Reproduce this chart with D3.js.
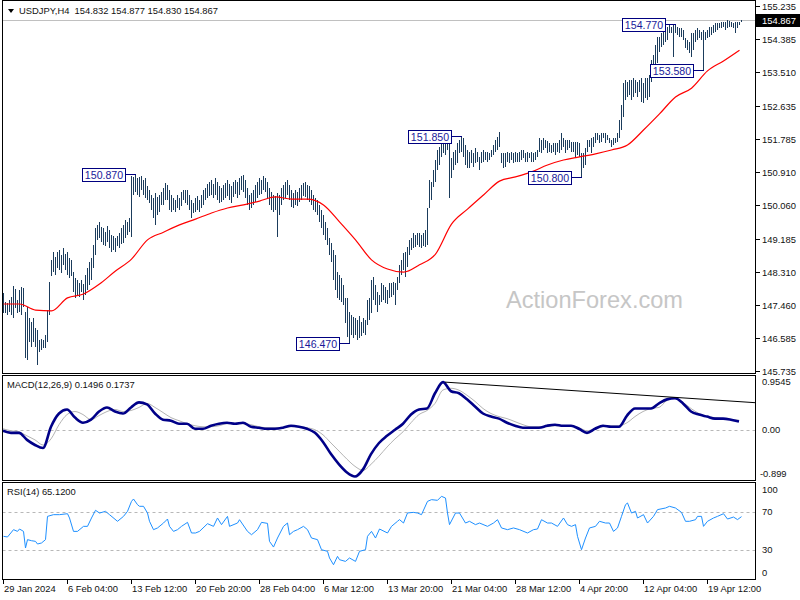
<!DOCTYPE html>
<html><head><meta charset="utf-8">
<script src="https://cdn.jsdelivr.net/npm/d3@7"></script>
<style>
html,body{margin:0;padding:0;background:#fff;}
svg{display:block;}
text{font-family:"Liberation Sans",Arial,sans-serif;white-space:pre;}
</style></head><body>
<svg id="chart" width="800" height="600"></svg>
<script>
// ---------------- DATA ----------------
const symbolTitle = "USDJPY,H4  154.832 154.877 154.830 154.867";
const lastClose = 154.867;
const priceTicks = [155.235,154.385,153.510,152.635,151.785,150.910,150.060,149.185,148.310,147.460,146.585,145.735];
const timeLabels = ["29 Jan 2024","6 Feb 04:00","13 Feb 12:00","20 Feb 20:00","28 Feb 04:00","6 Mar 12:00","13 Mar 20:00","21 Mar 04:00","28 Mar 12:00","4 Apr 20:00","12 Apr 04:00","19 Apr 12:00"];
const timeLabelBars = [0,32,64,96,128,160,192,224,256,288,320,352];

// H4 bar highs / lows (bar 0 = 29 Jan 2024)
const highs = [
147.77,147.54,147.51,147.59,147.67,147.95,147.87,147.59,147.85,147.93,147.90,
147.28,147.41,147.12,147.02,147.12,146.86,146.81,146.55,146.57,146.55,146.68,147.33,148.06,
148.63,148.84,148.71,148.84,148.89,148.76,148.94,148.79,148.84,148.68,148.63,
148.32,148.16,148.11,148.03,148.11,148.00,148.24,148.42,148.58,148.68,
149.02,149.46,149.54,149.62,149.49,149.46,149.36,149.51,149.41,149.28,149.25,149.20,149.25,149.33,149.46,149.54,149.67,149.62,149.72,
150.82,150.79,150.87,150.76,150.79,150.82,150.71,150.76,150.56,
150.45,150.32,150.24,150.37,150.27,150.32,150.40,150.50,150.63,150.58,150.45,150.32,150.24,150.19,150.32,150.24,150.40,150.45,150.45,150.45,150.32,150.19,150.11,150.24,
150.30,150.19,150.32,150.45,150.50,150.61,150.66,150.71,150.61,150.76,150.66,150.56,150.50,150.58,150.63,150.71,150.61,150.56,150.66,150.71,150.66,150.76,150.82,150.84,
150.71,150.50,150.32,150.37,150.45,150.58,150.66,150.76,150.71,150.82,150.76,150.66,150.50,150.40,150.32,150.30,150.37,150.32,150.50,150.58,150.66,150.71,150.58,150.45,150.37,
150.45,150.40,150.50,150.58,150.63,150.66,150.58,150.56,150.45,150.32,150.24,150.19,150.06,149.93,149.80,149.62,149.46,149.20,149.07,148.89,148.76,148.32,148.24,148.16,147.98,
147.64,147.64,147.28,147.20,147.15,147.12,147.07,147.17,147.02,147.12,147.07,147.59,147.64,148.11,148.19,147.98,147.80,147.72,148.03,147.98,147.93,147.85,148.03,148.03,148.06,148.03,
148.19,148.50,148.63,148.81,148.84,148.97,149.15,149.20,149.33,149.28,149.33,149.33,149.28,149.33,149.41,149.98,150.71,150.66,150.97,151.23,151.49,151.57,151.80,151.75,151.83,151.80,
151.68,151.29,151.44,151.49,151.68,151.75,151.85,151.80,151.62,151.49,151.44,151.49,151.42,151.55,151.44,151.31,151.44,151.49,151.44,151.44,151.42,151.49,151.62,151.75,151.83,151.96,
151.42,151.42,151.42,151.44,151.42,151.44,151.42,151.44,151.42,151.44,151.49,151.49,151.42,151.44,151.42,151.44,151.42,151.44,151.49,151.80,151.75,151.80,151.75,151.73,151.68,151.62,151.68,
151.68,151.68,151.75,151.94,151.80,151.75,151.75,151.75,151.70,151.70,151.70,151.70,151.68,151.42,151.42,151.55,151.75,151.75,151.80,151.83,151.94,151.94,151.88,151.94,151.94,151.94,151.88,151.80,151.75,151.80,151.80,151.94,
152.28,152.67,153.24,153.32,153.26,153.32,153.32,153.37,153.32,153.26,153.32,153.37,153.24,153.37,153.37,153.45,153.84,153.97,154.23,154.43,154.43,154.54,154.62,154.69,154.69,154.75,154.69,154.75,
154.77,154.69,154.67,154.67,154.62,154.41,154.36,154.30,154.54,154.54,154.62,154.67,154.62,154.56,154.62,154.56,154.62,154.69,154.69,154.75,154.80,154.80,154.80,154.82,154.82,154.82,154.88,154.85,154.82,154.80,154.82,154.82,154.82,154.877
];
const lows = [
147.25,147.25,147.20,147.28,147.20,147.12,147.38,147.25,147.28,147.20,147.41,
146.08,146.03,146.49,146.36,146.49,146.36,145.90,146.23,146.29,146.34,146.34,146.49,147.20,
148.21,148.32,148.24,148.42,148.37,148.29,148.50,148.37,148.24,148.16,148.21,
147.80,147.64,147.72,147.67,147.80,147.59,147.72,147.85,147.98,148.11,
148.42,148.76,149.15,149.20,149.10,149.02,148.99,149.10,148.94,148.84,148.89,148.84,148.99,148.94,149.05,149.07,149.20,149.28,149.36,
149.23,150.32,150.40,150.32,150.27,150.45,150.32,150.24,150.19,
150.11,149.93,149.72,149.54,149.80,149.88,150.06,150.06,150.19,150.19,149.93,149.88,149.93,149.88,149.98,149.93,150.04,150.19,150.11,150.06,149.93,149.72,149.85,149.88,
149.93,149.88,149.98,150.06,150.19,150.24,150.30,150.32,150.24,150.32,150.19,150.11,150.14,150.19,150.24,150.30,150.19,150.11,150.27,150.35,150.24,150.32,150.45,150.40,
150.24,150.06,149.93,149.98,150.06,150.14,150.24,150.32,150.35,150.45,150.40,150.24,150.06,149.93,149.88,149.93,149.23,149.80,150.06,150.19,150.24,150.32,150.19,150.01,149.98,
150.06,150.04,150.14,150.19,150.30,150.27,150.19,150.14,150.06,149.93,149.88,149.80,149.62,149.46,149.28,149.15,149.02,148.76,148.58,148.11,147.85,147.64,147.59,147.54,147.46,
146.99,146.62,146.47,146.68,146.60,146.68,146.55,146.60,146.65,146.73,146.68,146.94,147.07,147.25,147.59,147.46,147.28,147.46,147.54,147.59,147.51,147.48,147.64,147.67,147.72,147.46,
147.85,148.03,148.24,148.37,148.19,148.45,148.76,148.89,148.94,148.97,149.02,148.97,148.94,148.99,148.97,149.02,149.98,150.19,150.53,150.66,150.97,151.10,151.31,151.42,151.36,151.49,
150.24,150.76,150.97,151.10,151.16,151.42,151.44,151.31,151.10,151.03,151.03,151.16,151.05,151.16,151.18,150.97,151.16,151.18,151.23,151.18,151.23,151.31,151.36,151.44,151.49,151.57,
151.16,151.03,151.05,151.18,151.16,151.23,151.16,151.18,151.18,151.18,151.23,151.29,151.18,151.18,151.29,151.18,151.18,151.23,151.31,151.44,151.42,151.49,151.55,151.42,151.44,151.42,151.44,
151.36,151.44,151.42,151.49,151.57,151.42,151.49,151.55,151.44,151.44,151.31,151.36,151.31,150.80,151.03,151.10,151.44,151.57,151.42,151.57,151.68,151.75,151.68,151.70,151.80,151.68,151.75,151.68,151.57,151.62,151.68,151.70,
151.80,152.01,152.35,152.80,152.87,152.93,152.80,152.87,152.98,152.87,153.00,152.74,152.72,152.85,152.80,152.87,153.26,153.37,153.52,153.76,154.04,154.17,154.23,154.30,154.36,154.54,154.54,153.91,
154.54,154.49,154.43,154.43,154.36,154.15,154.10,154.02,153.91,154.10,154.30,154.36,154.41,154.36,153.58,154.36,154.41,154.43,154.49,154.54,154.56,154.62,154.67,154.67,154.69,154.62,154.67,154.69,154.69,154.67,154.54,154.67,154.75,154.83
];

// moving average (sampled every 8 bars)
const maStep = 8;
const maValues = [147.48,147.48,147.32,147.30,147.64,147.74,148.00,148.34,148.65,149.15,149.35,149.54,149.69,149.85,149.98,150.06,150.16,150.27,150.21,150.21,150.06,149.62,149.15,148.63,148.39,148.31,148.50,148.78,149.56,149.95,150.32,150.68,150.79,150.92,151.10,151.23,151.31,151.39,151.49,151.62,152.01,152.43,152.87,153.10,153.55,153.81,154.09];

// MACD(12,26,9) sampled every 4 bars
const macdStep = 4;
const macdMain = [-0.018,-0.055,-0.055,-0.183,-0.275,-0.330,0.055,0.294,0.367,0.220,
0.128,0.183,0.330,0.404,0.330,0.294,0.404,0.495,0.459,0.294,
0.183,0.165,0.110,0.110,0.018,0.018,0.073,0.110,0.128,0.110,
0.128,0.055,0.037,0.018,0.018,0.037,0.073,0.055,0.018,-0.055,
-0.220,-0.440,-0.624,-0.771,-0.844,-0.716,-0.440,-0.239,-0.110,0.000,
0.110,0.275,0.367,0.385,0.661,0.862,0.697,0.661,0.550,0.422,
0.294,0.239,0.202,0.128,0.073,0.037,0.037,0.037,0.073,0.092,
0.073,0.073,0.018,-0.055,0.018,0.073,0.055,0.055,0.257,0.385,
0.385,0.385,0.477,0.550,0.569,0.477,0.330,0.275,0.239,0.202,
0.202,0.183,0.150];
const macdSignal = [0.018,-0.018,-0.037,-0.110,-0.183,-0.275,-0.165,0.092,0.275,0.330,
0.275,0.183,0.257,0.330,0.367,0.330,0.349,0.404,0.477,0.404,
0.312,0.220,0.165,0.110,0.073,0.055,0.055,0.073,0.110,0.110,
0.110,0.092,0.055,0.037,0.037,0.037,0.055,0.055,0.037,0.000,
-0.092,-0.239,-0.385,-0.532,-0.661,-0.734,-0.624,-0.477,-0.312,-0.165,
-0.037,0.128,0.275,0.349,0.477,0.720,0.750,0.716,0.624,0.514,
0.385,0.294,0.239,0.202,0.147,0.092,0.055,0.055,0.055,0.073,
0.073,0.073,0.037,-0.018,0.018,0.055,0.073,0.073,0.128,0.239,
0.330,0.385,0.404,0.532,0.569,0.495,0.385,0.294,0.239,0.220,
0.202,0.183,0.174];
const macdTrend = [[221,0.862],[376,0.49]];

// RSI(14): [bar, value]
const rsiSeries = [[0,44.4],[2,43.7],[5,51.4],[7,49.6],[8,52.1],[10,49.6],[11,32.1],[12,40.9],[14,39.8],[16,39.1],[17,36.3],[19,37.4],[21,40.9],[22,65.4],[25,67.2],[28,67.2],[32,68.2],[33,63.7],[35,49.6],[37,49.6],[40,54.9],[42,54.9],[44,63.7],[46,71.8],[48,68.9],[51,70.7],[53,67.2],[57,60.2],[60,65.4],[62,70.7],[64,81.2],[65,83.7],[67,77.7],[68,76.0],[70,76.0],[72,68.9],[73,60.2],[75,51.4],[77,53.2],[80,58.4],[82,62.6],[83,54.9],[85,49.6],[87,51.4],[89,54.9],[92,59.1],[94,47.9],[96,47.9],[98,49.6],[102,57.7],[105,54.9],[107,63.7],[109,56.7],[112,65.4],[113,54.9],[117,58.4],[118,61.9],[122,49.6],[124,46.1],[127,51.4],[129,59.1],[132,58.0],[133,39.1],[135,33.1],[137,42.6],[140,54.9],[142,58.4],[143,46.1],[145,49.6],[147,51.4],[150,54.9],[152,51.4],[154,42.6],[157,40.9],[159,30.3],[162,28.6],[163,21.6],[165,14.5],[167,23.3],[168,19.8],[171,18.0],[173,21.6],[176,18.0],[178,28.6],[181,30.3],[182,44.4],[184,49.6],[186,42.6],[188,52.1],[192,47.9],[194,54.9],[197,60.2],[198,62.0],[200,58.4],[202,69.0],[205,69.6],[207,68.9],[209,67.2],[212,81.2],[214,83.0],[217,82.3],[219,86.5],[221,84.7],[222,68.9],[223,56.7],[226,68.9],[228,68.9],[231,58.4],[233,60.2],[236,56.7],[238,58.4],[242,54.9],[245,58.4],[247,61.9],[249,53.2],[252,51.4],[255,53.2],[258,51.4],[262,47.9],[265,51.4],[267,52.1],[269,61.9],[272,58.4],[274,58.4],[277,54.9],[280,63.7],[282,56.7],[284,54.9],[286,56.7],[287,44.4],[289,30.3],[291,42.6],[293,53.2],[296,54.9],[298,60.2],[301,58.4],[303,58.4],[305,49.6],[307,53.2],[309,65.4],[311,77.7],[312,79.5],[314,68.9],[316,70.7],[317,63.7],[320,67.2],[322,58.4],[325,65.4],[327,72.5],[331,74.2],[333,76.0],[336,74.2],[339,69.6],[341,60.2],[343,60.2],[346,61.9],[347,65.4],[349,65.4],[350,54.9],[352,60.2],[355,63.7],[357,65.4],[360,68.2],[362,62.6],[365,64.7],[367,62.0],[369,65.12]];

// price labels on swing points
const swingPrices = [150.870,146.470,151.850,150.800,154.770,153.580];
const swingBars   = [66,173,229,289,336,350];

// ---------------- DRAW ----------------
const svg = d3.select("#chart");
const L = 2.5, R = 755.5;
const panels = {main:[0.5,373.5], macd:[375.5,480.5], rsi:[482.5,579.5]};

const x = d3.scaleLinear().domain([0,376]).range([3,755]);
const yP = d3.scaleLinear().domain([145.735,155.235]).range([371,6.2]);
const yM = d3.scaleLinear().domain([-0.899,0.9545]).range([479.5,377]);
const yR = d3.scaleLinear().domain([0,100]).range([578.5,483.5]);
const fs = 9.4;
const txt = "#111";

// watermark
svg.append("text").attr("x",506).attr("y",308).attr("font-size",23.6).attr("fill","#c6c6c6").text("ActionForex.com");

// current price line
svg.append("line").attr("x1",L).attr("x2",R).attr("y1",Math.round(yP(lastClose))+0.5).attr("y2",Math.round(yP(lastClose))+0.5)
  .attr("stroke","#c0c0c0").attr("stroke-width",1);

// bars
const barIdx = d3.range(highs.length);
svg.append("g").attr("shape-rendering","crispEdges").selectAll("line").data(barIdx).join("line")
  .attr("x1",i=>x(i)+0.5).attr("x2",i=>x(i)+0.5)
  .attr("y1",i=>yP(highs[i])).attr("y2",i=>Math.max(yP(lows[i]),yP(highs[i])+1))
  .attr("stroke","#1b3c5c").attr("stroke-width",1);

// MA
svg.append("path").datum(maValues).attr("fill","none").attr("stroke","#ff0000").attr("stroke-width",1.2)
  .attr("d",d3.line().x((d,k)=>x(k*maStep)+0.5).y(d=>yP(d)).curve(d3.curveMonotoneX));

// swing labels
const lab = svg.append("g");
swingPrices.forEach((p,k)=>{
  const bx = x(swingBars[k])+0.5, by = Math.round(yP(p))+0.5;
  const w = 43, h = 13;
  lab.append("line").attr("x1",bx-10).attr("x2",bx).attr("y1",by).attr("y2",by).attr("stroke","#000080").attr("shape-rendering","crispEdges");
  lab.append("rect").attr("x",bx-10-w).attr("y",by-6.5).attr("width",w).attr("height",h)
    .attr("fill","#fff").attr("stroke","#000080").attr("stroke-width",1).attr("shape-rendering","crispEdges");
  lab.append("text").attr("x",bx-10-w/2).attr("y",by+4).attr("text-anchor","middle")
    .attr("font-size",10.6).attr("fill","#1a1a9a").text(d3.format(".3f")(p));
});

// MACD
svg.append("line").attr("x1",L).attr("x2",R).attr("y1",Math.round(yM(0))+0.5).attr("y2",Math.round(yM(0))+0.5)
  .attr("stroke","#b8b8b8").attr("stroke-dasharray","3,3");
svg.append("path").datum(macdSignal).attr("fill","none").attr("stroke","#b4b4b4").attr("stroke-width",1)
  .attr("d",d3.line().x((d,k)=>x(k*macdStep)).y(d=>yM(d)).curve(d3.curveMonotoneX));
svg.append("path").datum(macdMain).attr("fill","none").attr("stroke","#000088").attr("stroke-width",2.6)
  .attr("d",d3.line().x((d,k)=>x(k*macdStep)).y(d=>yM(d)).curve(d3.curveMonotoneX));
svg.append("line").attr("x1",x(macdTrend[0][0])).attr("y1",yM(macdTrend[0][1]))
  .attr("x2",x(macdTrend[1][0])).attr("y2",yM(macdTrend[1][1])).attr("stroke","#000").attr("stroke-width",1);

// RSI
[70,30].forEach(v=>svg.append("line").attr("x1",L).attr("x2",R).attr("y1",Math.round(yR(v))+0.5).attr("y2",Math.round(yR(v))+0.5)
  .attr("stroke","#b8b8b8").attr("stroke-dasharray","3,3"));
svg.append("path").datum(rsiSeries).attr("fill","none").attr("stroke","#1e90ff").attr("stroke-width",1)
  .attr("d",d3.line().x(d=>x(d[0])+0.5).y(d=>yR(d[1])));

// panel frames
const fr = svg.append("g").attr("shape-rendering","crispEdges");
Object.values(panels).forEach(([t,b])=>{
  fr.append("rect").attr("x",L).attr("y",t).attr("width",R-L).attr("height",b-t).attr("fill","none").attr("stroke","#000");
});

// price axis
const ax = svg.append("g");
priceTicks.forEach(v=>{
  const yy = Math.round(yP(v))+0.5;
  ax.append("line").attr("x1",R).attr("x2",R+4).attr("y1",yy).attr("y2",yy).attr("stroke","#000").attr("shape-rendering","crispEdges");
  ax.append("text").attr("x",762).attr("y",yy+3.3).attr("font-size",fs).attr("fill",txt).text(d3.format(".3f")(v));
});
// current price box
const cy = Math.round(yP(lastClose))+0.5;
ax.append("rect").attr("x",756).attr("y",cy-6.5).attr("width",44).attr("height",13).attr("fill","#000");
ax.append("text").attr("x",762).attr("y",cy+3.3).attr("font-size",fs).attr("fill","#fff").text(d3.format(".3f")(lastClose));

// MACD axis labels
[[0.9545,"0.9545",yM(0.9545)+5],[0,"0.00",yM(0)],[-0.899,"-0.899",yM(-0.899)-6]].forEach(([v,t,yy])=>{
  ax.append("text").attr("x",t.startsWith("-")?760:762).attr("y",yy+3.3).attr("font-size",fs).attr("fill",txt).text(t);
});
// RSI axis labels
[[100,yR(100)+6.5],[70,yR(70)],[30,yR(30)],[0,yR(0)-5.5]].forEach(([v,yy])=>{
  ax.append("text").attr("x",762).attr("y",yy+3.3).attr("font-size",fs).attr("fill",txt).text(String(v));
});

// time axis
timeLabels.forEach((t,k)=>{
  const xx = x(timeLabelBars[k])+0.5;
  ax.append("line").attr("x1",xx).attr("x2",xx).attr("y1",579.5).attr("y2",584).attr("stroke","#000").attr("shape-rendering","crispEdges");
  ax.append("text").attr("x",xx+0.5).attr("y",592).attr("font-size",fs).attr("fill",txt).text(t);
});

// titles
svg.append("path").attr("d","M8,9 L14,9 L11,13 Z").attr("fill","#000");
svg.append("text").attr("x",19).attr("y",14).attr("font-size",fs).attr("fill",txt).text(symbolTitle);
svg.append("text").attr("x",7).attr("y",388).attr("font-size",fs).attr("fill",txt).text("MACD(12,26,9) 0.1496 0.1737");
svg.append("text").attr("x",7).attr("y",495).attr("font-size",fs).attr("fill",txt).text("RSI(14) 65.1200");
</script>
</body></html>
